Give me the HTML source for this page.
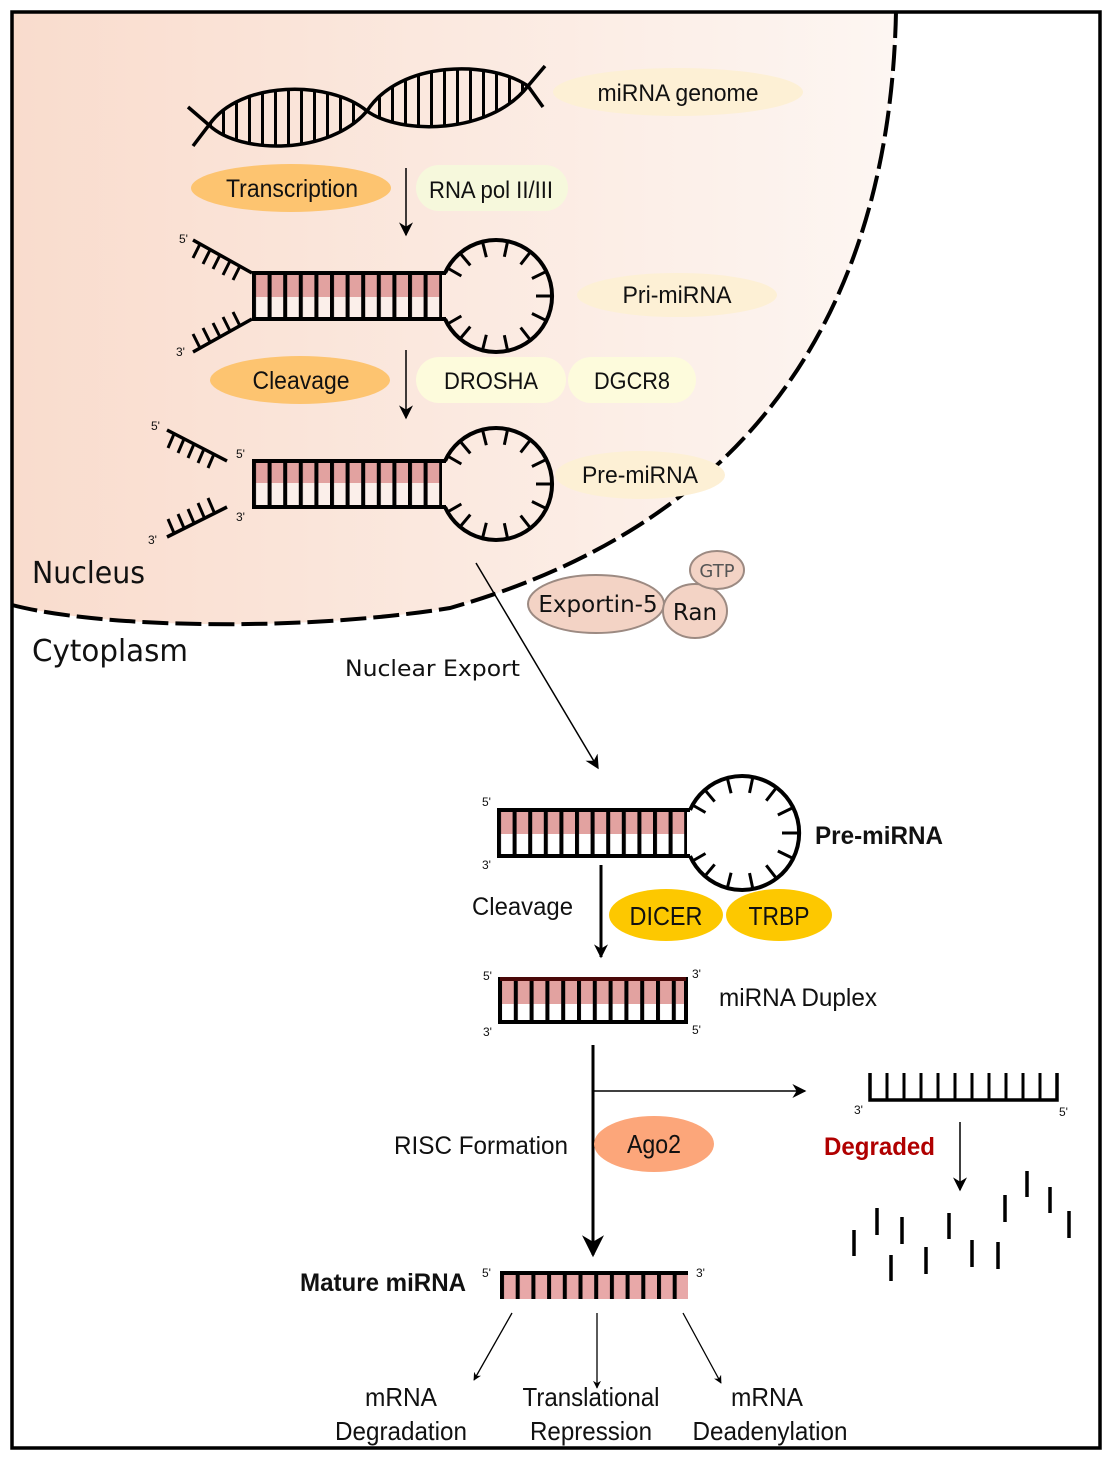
<!DOCTYPE html>
<html><head><meta charset="utf-8"><style>
html,body{margin:0;padding:0;background:#fff}
svg{display:block}
text{font-family:"Liberation Sans",sans-serif;fill:#111}
.dv{font-family:"DejaVu Sans","Liberation Sans",sans-serif}
</style></head><body>
<svg width="1108" height="1461" viewBox="0 0 1108 1461" xmlns="http://www.w3.org/2000/svg">
<defs>
<linearGradient id="nuc" x1="0" x2="1" y1="0" y2="0">
<stop offset="0" stop-color="#f9dccd"/><stop offset="1" stop-color="#fdf6f2"/>
</linearGradient>
<pattern id="rung" x="252" y="0" width="15.6" height="10" patternUnits="userSpaceOnUse"><rect x="0" y="0" width="4" height="10" fill="#000"/></pattern>
<pattern id="rung2" x="497" y="0" width="15.6" height="10" patternUnits="userSpaceOnUse"><rect x="0" y="0" width="4" height="10" fill="#000"/></pattern>
<pattern id="rung3" x="498" y="0" width="15.8" height="10" patternUnits="userSpaceOnUse"><rect x="0" y="0" width="4" height="10" fill="#000"/></pattern>
<pattern id="rung4" x="500" y="0" width="15.7" height="10" patternUnits="userSpaceOnUse"><rect x="0" y="0" width="4" height="10" fill="#000"/></pattern>
<pattern id="dnar" x="222" y="0" width="13" height="10" patternUnits="userSpaceOnUse"><rect x="0" y="0" width="3" height="10" fill="#000"/></pattern>
<clipPath id="dnaclip"><path clip-rule="evenodd" d="M209,125 C240,80 330,80 367,111 C400,135 490,135 528,86 C490,60 400,60 367,111 C330,155 240,155 209,125 Z"/></clipPath>
<marker id="ah" viewBox="0 0 10 10" refX="9" refY="5" markerWidth="8" markerHeight="8" orient="auto" markerUnits="userSpaceOnUse"><path d="M0,0 L10,5 L0,10 L3,5 Z" fill="#000"/></marker>
<marker id="ahl" viewBox="0 0 10 10" refX="9" refY="5" markerWidth="16" markerHeight="14" orient="auto" markerUnits="userSpaceOnUse"><path d="M0,0 L10,5 L0,10 L3,5 Z" fill="#000"/></marker>
<marker id="ahxl" viewBox="0 0 10 10" refX="9" refY="5" markerWidth="44" markerHeight="22" orient="auto" markerUnits="userSpaceOnUse"><path d="M0,0 L10,5 L0,10 L3,5 Z" fill="#000"/></marker>
</defs>

<!-- nucleus -->
<path d="M896,12 C890,300 760,520 450,608 C300,632 100,628 12,605 L12,12 Z" fill="url(#nuc)"/>
<path d="M896,12 C890,300 760,520 450,608 C300,632 100,628 12,605" fill="none" stroke="#000" stroke-width="4" stroke-dasharray="26,7"/>
<rect x="12" y="12" width="1088" height="1436" fill="none" stroke="#000" stroke-width="3.5"/>

<!-- DNA -->
<rect x="185" y="55" width="365" height="100" fill="url(#dnar)" clip-path="url(#dnaclip)"/>
<path d="M193,146 L209,125 C240,80 330,80 367,111 C400,135 490,135 528,86 L545,66" fill="none" stroke="#000" stroke-width="3.5"/>
<path d="M188,107 L209,125 C240,155 330,155 367,111 C400,60 490,60 528,86 L543,107" fill="none" stroke="#000" stroke-width="3.5"/>

<ellipse cx="678" cy="92" rx="125" ry="24" fill="#fdf0d5"/>
<text x="678" y="101" font-size="24" text-anchor="middle" textLength="161" lengthAdjust="spacingAndGlyphs">miRNA genome</text>
<ellipse cx="291" cy="188" rx="100" ry="24" fill="#fdc470"/>
<text x="292" y="197" font-size="25" text-anchor="middle" textLength="132" lengthAdjust="spacingAndGlyphs">Transcription</text>
<rect x="416" y="165" width="152" height="46" rx="23" fill="#f6f8dc"/>
<text x="491" y="198" font-size="24" text-anchor="middle" textLength="124" lengthAdjust="spacingAndGlyphs">RNA pol II/III</text>
<line x1="406" y1="168" x2="406" y2="235" stroke="#000" stroke-width="1.5" marker-end="url(#ahl)"/>

<!-- Pri-miRNA -->
<path d="M252,273 L193,240 M252,319 L193,352" stroke="#000" stroke-width="3.5" fill="none"/>
<g stroke="#000" stroke-width="3">
<line x1="200" y1="244" x2="193" y2="258"/><line x1="210" y1="250" x2="203" y2="264"/><line x1="220" y1="255" x2="213" y2="269"/><line x1="230" y1="261" x2="223" y2="275"/><line x1="240" y1="266" x2="233" y2="280"/>
<line x1="200" y1="348" x2="193" y2="334"/><line x1="210" y1="342" x2="203" y2="328"/><line x1="220" y1="337" x2="213" y2="323"/><line x1="230" y1="331" x2="223" y2="317"/><line x1="240" y1="326" x2="233" y2="312"/>
</g>
<text x="179" y="243" font-size="12">5'</text><text x="176" y="356" font-size="12">3'</text>
<rect x="252" y="273" width="190" height="24" fill="#e2a2a0"/><rect x="252" y="297" width="190" height="22" fill="#fbefea"/>
<rect x="252" y="273" width="190" height="46" fill="url(#rung)"/>
<path d="M252,273 L446,273 M252,319 L446,319" stroke="#000" stroke-width="4"/>
<path d="M445,273 A56,56 0 1 1 445,319" fill="none" stroke="#000" stroke-width="4"/>
<g transform="translate(496,296)" stroke="#000" stroke-width="3">
<line x1="40" y1="0" x2="56" y2="0" transform="rotate(-130)"/><line x1="40" y1="0" x2="56" y2="0" transform="rotate(-104)"/><line x1="40" y1="0" x2="56" y2="0" transform="rotate(-78)"/><line x1="40" y1="0" x2="56" y2="0" transform="rotate(-52)"/><line x1="40" y1="0" x2="56" y2="0" transform="rotate(-26)"/><line x1="40" y1="0" x2="56" y2="0"/><line x1="40" y1="0" x2="56" y2="0" transform="rotate(26)"/><line x1="40" y1="0" x2="56" y2="0" transform="rotate(52)"/><line x1="40" y1="0" x2="56" y2="0" transform="rotate(78)"/><line x1="40" y1="0" x2="56" y2="0" transform="rotate(104)"/><line x1="40" y1="0" x2="56" y2="0" transform="rotate(130)"/><line x1="40" y1="0" x2="56" y2="0" transform="rotate(150)"/><line x1="40" y1="0" x2="56" y2="0" transform="rotate(-150)"/>
</g>
<ellipse cx="677" cy="295" rx="100" ry="22" fill="#fdf0d5"/>
<text x="677" y="303" font-size="24" text-anchor="middle" textLength="109" lengthAdjust="spacingAndGlyphs">Pri-miRNA</text>

<ellipse cx="300" cy="380" rx="90" ry="24" fill="#fdc470"/>
<text x="301" y="389" font-size="25" text-anchor="middle" textLength="97" lengthAdjust="spacingAndGlyphs">Cleavage</text>
<rect x="416" y="357" width="150" height="46" rx="23" fill="#fdfbdc"/>
<text x="491" y="389" font-size="24" text-anchor="middle" textLength="94" lengthAdjust="spacingAndGlyphs">DROSHA</text>
<rect x="568" y="357" width="128" height="46" rx="23" fill="#fdfbdc"/>
<text x="632" y="389" font-size="24" text-anchor="middle" textLength="76" lengthAdjust="spacingAndGlyphs">DGCR8</text>
<line x1="406" y1="350" x2="406" y2="418" stroke="#000" stroke-width="1.5" marker-end="url(#ahl)"/>

<!-- Pre-miRNA nucleus -->
<path d="M167,430 L227,461 M167,537 L227,507" stroke="#000" stroke-width="3.5" fill="none"/>
<g stroke="#000" stroke-width="3">
<line x1="174" y1="434" x2="168" y2="448"/><line x1="184" y1="439" x2="178" y2="453"/><line x1="194" y1="444" x2="188" y2="458"/><line x1="204" y1="449" x2="198" y2="463"/><line x1="214" y1="454" x2="208" y2="468"/>
<line x1="174" y1="533" x2="168" y2="519"/><line x1="184" y1="528" x2="178" y2="514"/><line x1="194" y1="523" x2="188" y2="509"/><line x1="204" y1="517" x2="198" y2="503"/><line x1="214" y1="512" x2="208" y2="498"/>
</g>
<text x="151" y="430" font-size="12">5'</text><text x="236" y="458" font-size="12">5'</text><text x="236" y="521" font-size="12">3'</text><text x="148" y="544" font-size="12">3'</text>
<rect x="252" y="461" width="190" height="22" fill="#e2a2a0"/><rect x="252" y="483" width="190" height="24" fill="#fbefea"/>
<rect x="252" y="461" width="190" height="46" fill="url(#rung)"/>
<path d="M252,461 L446,461 M252,507 L446,507" stroke="#000" stroke-width="4"/>
<path d="M445,461 A56,56 0 1 1 445,507" fill="none" stroke="#000" stroke-width="4"/>
<g transform="translate(496,484)" stroke="#000" stroke-width="3">
<line x1="40" y1="0" x2="56" y2="0" transform="rotate(-130)"/><line x1="40" y1="0" x2="56" y2="0" transform="rotate(-104)"/><line x1="40" y1="0" x2="56" y2="0" transform="rotate(-78)"/><line x1="40" y1="0" x2="56" y2="0" transform="rotate(-52)"/><line x1="40" y1="0" x2="56" y2="0" transform="rotate(-26)"/><line x1="40" y1="0" x2="56" y2="0"/><line x1="40" y1="0" x2="56" y2="0" transform="rotate(26)"/><line x1="40" y1="0" x2="56" y2="0" transform="rotate(52)"/><line x1="40" y1="0" x2="56" y2="0" transform="rotate(78)"/><line x1="40" y1="0" x2="56" y2="0" transform="rotate(104)"/><line x1="40" y1="0" x2="56" y2="0" transform="rotate(130)"/><line x1="40" y1="0" x2="56" y2="0" transform="rotate(150)"/><line x1="40" y1="0" x2="56" y2="0" transform="rotate(-150)"/>
</g>
<ellipse cx="640" cy="475" rx="85" ry="24" fill="#fdf0d5"/>
<text x="640" y="483" font-size="24" text-anchor="middle" textLength="116" lengthAdjust="spacingAndGlyphs">Pre-miRNA</text>

<text x="32" y="583" font-size="30" class="dv" textLength="113" lengthAdjust="spacingAndGlyphs">Nucleus</text>
<text x="32" y="661" font-size="30" class="dv" textLength="156" lengthAdjust="spacingAndGlyphs">Cytoplasm</text>
<text x="345" y="676" font-size="22" class="dv" textLength="175" lengthAdjust="spacingAndGlyphs">Nuclear Export</text>
<line x1="476" y1="563" x2="598" y2="768" stroke="#000" stroke-width="1.5" marker-end="url(#ahl)"/>

<ellipse cx="596" cy="604" rx="68" ry="29" fill="#f3d3c5" stroke="#9c8a82" stroke-width="2"/>
<text x="598" y="612" font-size="23" text-anchor="middle" class="dv">Exportin-5</text>
<ellipse cx="695" cy="611" rx="32" ry="27" fill="#f3d3c5" stroke="#9c8a82" stroke-width="2"/>
<text x="695" y="620" font-size="23" text-anchor="middle" class="dv">Ran</text>
<ellipse cx="717" cy="570" rx="27" ry="19" fill="#f3d3c5" stroke="#9c8a82" stroke-width="2"/>
<text x="717" y="577" font-size="18" text-anchor="middle" class="dv" style="fill:#555">GTP</text>

<!-- cytoplasm pre-miRNA -->
<text x="482" y="806" font-size="12">5'</text><text x="482" y="869" font-size="12">3'</text>
<rect x="497" y="810" width="190" height="24" fill="#e2a2a0"/><rect x="497" y="834" width="190" height="22" fill="#fff"/>
<rect x="497" y="810" width="190" height="46" fill="url(#rung2)"/>
<path d="M497,810 L690,810 M497,856 L690,856" stroke="#000" stroke-width="4"/>
<path d="M690,810 A57,57 0 1 1 690,856" fill="none" stroke="#000" stroke-width="4"/>
<g transform="translate(741,833)" stroke="#000" stroke-width="3">
<line x1="41" y1="0" x2="57" y2="0" transform="rotate(-130)"/><line x1="41" y1="0" x2="57" y2="0" transform="rotate(-104)"/><line x1="41" y1="0" x2="57" y2="0" transform="rotate(-78)"/><line x1="41" y1="0" x2="57" y2="0" transform="rotate(-52)"/><line x1="41" y1="0" x2="57" y2="0" transform="rotate(-26)"/><line x1="41" y1="0" x2="57" y2="0"/><line x1="41" y1="0" x2="57" y2="0" transform="rotate(26)"/><line x1="41" y1="0" x2="57" y2="0" transform="rotate(52)"/><line x1="41" y1="0" x2="57" y2="0" transform="rotate(78)"/><line x1="41" y1="0" x2="57" y2="0" transform="rotate(104)"/><line x1="41" y1="0" x2="57" y2="0" transform="rotate(130)"/><line x1="41" y1="0" x2="57" y2="0" transform="rotate(150)"/><line x1="41" y1="0" x2="57" y2="0" transform="rotate(-150)"/>
</g>
<text x="815" y="844" font-size="25" font-weight="bold" textLength="128" lengthAdjust="spacingAndGlyphs">Pre-miRNA</text>

<text x="472" y="915" font-size="25" textLength="101" lengthAdjust="spacingAndGlyphs">Cleavage</text>
<line x1="601" y1="865" x2="601" y2="957" stroke="#000" stroke-width="3" marker-end="url(#ahl)"/>
<ellipse cx="666" cy="915" rx="57" ry="26" fill="#fdc800"/>
<text x="666" y="925" font-size="26" text-anchor="middle" textLength="73" lengthAdjust="spacingAndGlyphs">DICER</text>
<ellipse cx="779" cy="915" rx="53" ry="26" fill="#fdc800"/>
<text x="779" y="925" font-size="26" text-anchor="middle" textLength="61" lengthAdjust="spacingAndGlyphs">TRBP</text>

<!-- duplex -->
<text x="483" y="980" font-size="12">5'</text><text x="483" y="1036" font-size="12">3'</text>
<text x="692" y="978" font-size="12">3'</text><text x="692" y="1034" font-size="12">5'</text>
<rect x="498" y="977" width="190" height="27" fill="#e2a2a0"/><rect x="498" y="1004" width="190" height="20" fill="#fff"/>
<rect x="498" y="977" width="190" height="47" fill="url(#rung3)"/>
<rect x="500" y="979" width="186" height="43" fill="none" stroke="#000" stroke-width="4"/>
<line x1="500" y1="979" x2="686" y2="979" stroke="#4a0808" stroke-width="4"/>
<text x="719" y="1006" font-size="25" textLength="158" lengthAdjust="spacingAndGlyphs">miRNA Duplex</text>

<line x1="593" y1="1045" x2="593" y2="1255" stroke="#000" stroke-width="3" marker-end="url(#ahxl)"/>
<line x1="593" y1="1091" x2="805" y2="1091" stroke="#000" stroke-width="1.5" marker-end="url(#ahl)"/>
<ellipse cx="654" cy="1144" rx="60" ry="28" fill="#fca67a"/>
<text x="654" y="1153" font-size="26" text-anchor="middle" textLength="54" lengthAdjust="spacingAndGlyphs">Ago2</text>
<text x="394" y="1154" font-size="25" textLength="174" lengthAdjust="spacingAndGlyphs">RISC Formation</text>

<!-- degraded -->
<path d="M870,1073 L870,1100 L1057,1100 L1057,1073" fill="none" stroke="#000" stroke-width="3.5"/>
<g stroke="#000" stroke-width="3">
<line x1="887" y1="1073" x2="887" y2="1100"/><line x1="904" y1="1073" x2="904" y2="1100"/><line x1="921" y1="1073" x2="921" y2="1100"/><line x1="938" y1="1073" x2="938" y2="1100"/><line x1="955" y1="1073" x2="955" y2="1100"/><line x1="972" y1="1073" x2="972" y2="1100"/><line x1="989" y1="1073" x2="989" y2="1100"/><line x1="1006" y1="1073" x2="1006" y2="1100"/><line x1="1023" y1="1073" x2="1023" y2="1100"/><line x1="1040" y1="1073" x2="1040" y2="1100"/>
</g>
<text x="854" y="1114" font-size="12">3'</text><text x="1059" y="1116" font-size="12">5'</text>
<text x="824" y="1155" font-size="25" font-weight="bold" style="fill:#b00000" textLength="111" lengthAdjust="spacingAndGlyphs">Degraded</text>
<line x1="960" y1="1122" x2="960" y2="1190" stroke="#000" stroke-width="1.5" marker-end="url(#ahl)"/>
<g stroke="#000" stroke-width="3.5">
<line x1="854" y1="1230" x2="854" y2="1256"/><line x1="877" y1="1208" x2="877" y2="1235"/><line x1="902" y1="1217" x2="902" y2="1244"/><line x1="891" y1="1255" x2="891" y2="1281"/><line x1="926" y1="1247" x2="926" y2="1274"/><line x1="949" y1="1213" x2="949" y2="1239"/><line x1="972" y1="1240" x2="972" y2="1267"/><line x1="998" y1="1242" x2="998" y2="1269"/><line x1="1005" y1="1195" x2="1005" y2="1222"/><line x1="1027" y1="1171" x2="1027" y2="1197"/><line x1="1050" y1="1187" x2="1050" y2="1213"/><line x1="1069" y1="1211" x2="1069" y2="1238"/>
</g>

<!-- mature -->
<text x="300" y="1291" font-size="25" font-weight="bold" textLength="166" lengthAdjust="spacingAndGlyphs">Mature miRNA</text>
<text x="482" y="1277" font-size="12">5'</text><text x="696" y="1277" font-size="12">3'</text>
<rect x="500" y="1272" width="188" height="27" fill="#e8a8a8"/>
<rect x="500" y="1272" width="188" height="27" fill="url(#rung4)"/>
<line x1="500" y1="1273" x2="688" y2="1273" stroke="#000" stroke-width="4"/>

<line x1="512" y1="1313" x2="474" y2="1380" stroke="#000" stroke-width="1.3" marker-end="url(#ah)"/>
<line x1="597" y1="1313" x2="597" y2="1388" stroke="#000" stroke-width="1.3" marker-end="url(#ah)"/>
<line x1="683" y1="1313" x2="721" y2="1383" stroke="#000" stroke-width="1.3" marker-end="url(#ah)"/>
<text x="401" y="1406" font-size="26" text-anchor="middle" textLength="72" lengthAdjust="spacingAndGlyphs">mRNA</text>
<text x="401" y="1440" font-size="26" text-anchor="middle" textLength="132" lengthAdjust="spacingAndGlyphs">Degradation</text>
<text x="591" y="1406" font-size="26" text-anchor="middle" textLength="137" lengthAdjust="spacingAndGlyphs">Translational</text>
<text x="591" y="1440" font-size="26" text-anchor="middle" textLength="122" lengthAdjust="spacingAndGlyphs">Repression</text>
<text x="767" y="1406" font-size="26" text-anchor="middle" textLength="72" lengthAdjust="spacingAndGlyphs">mRNA</text>
<text x="770" y="1440" font-size="26" text-anchor="middle" textLength="155" lengthAdjust="spacingAndGlyphs">Deadenylation</text>
</svg>
</body></html>
